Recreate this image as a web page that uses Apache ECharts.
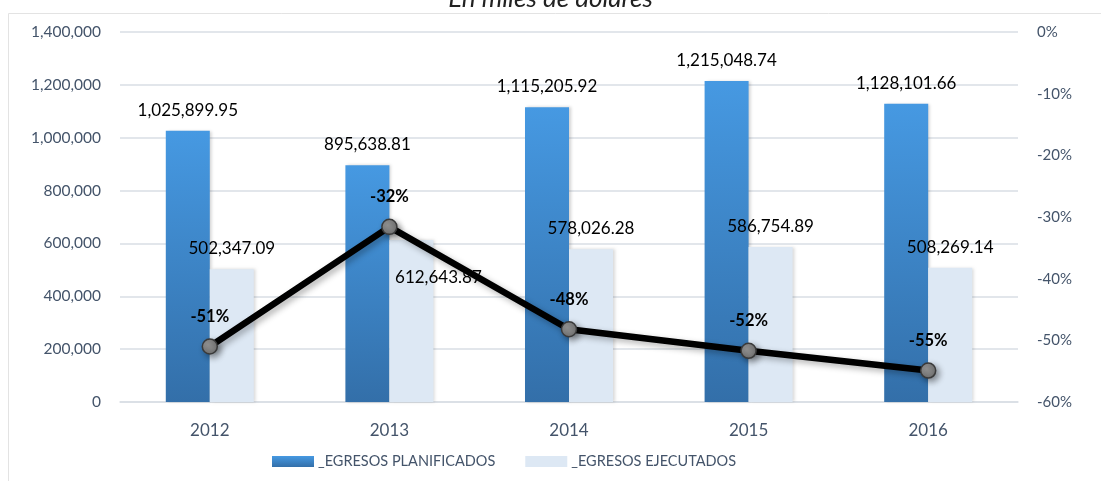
<!DOCTYPE html>
<html>
<head>
<meta charset="utf-8">
<script src="https://cdn.jsdelivr.net/npm/echarts@6/dist/echarts.min.js"></script>
<style>
  html, body { margin: 0; padding: 0; background: #fff; }
  #chart { width: 1101px; height: 481px; }
</style>
</head>
<body>
<div id="chart"></div>
<script>
// datos
var years = ['2012', '2013', '2014', '2015', '2016'];
var planificados = [1025899.95, 895638.81, 1115205.92, 1215048.74, 1128101.66];
var ejecutados = [502347.09, 612643.87, 578026.28, 586754.89, 508269.14];
var variacion = [-51.0, -31.6, -48.2, -51.7, -54.9];
var leftTicks = [0, 1400000, 200000]; // min, max, interval
var rightTicks = [-60, 0, 10];

var FONT = 'Lato';
var AXIS_COLOR = '#44546a';
var GRID_COLOR = '#d9dee5';

var fmtMoney = function (v) {
  return Number(v).toLocaleString('en-US', { minimumFractionDigits: 2, maximumFractionDigits: 2 });
};

var chart = echarts.init(document.getElementById('chart'));

var ejecData = ejecutados.map(function (v, i) {
  var item = { value: v };
  // esta etiqueta esta movida en el original (para no chocar con la linea)
  if (i === 1) {
    item.label = { offset: [27, 58] };
  }
  return item;
});

var option = {
  animation: false,
  textStyle: { fontFamily: FONT },
  title: {
    text: 'En miles de dólares',
    left: 'center',
    top: -19,
    textStyle: { fontFamily: FONT, fontStyle: 'italic', fontWeight: 'normal', fontSize: 26, color: '#222' }
  },
  graphic: [{
    type: 'rect',
    shape: { x: 8.5, y: 13.5, width: 1200, height: 600 },
    style: { fill: 'none', stroke: '#e3e3e3', lineWidth: 1 },
    silent: true
  }],
  grid: { left: 120, right: 83, top: 32, bottom: 79 },
  legend: {
    left: 267,
    top: 449,
    itemWidth: 42,
    itemHeight: 11,
    itemGap: 30,
    icon: 'rect',
    data: ['_EGRESOS PLANIFICADOS', '_EGRESOS EJECUTADOS'],
    textStyle: { fontFamily: FONT, fontSize: 14.5, color: AXIS_COLOR, padding: [0, 0, 0, -1] }
  },
  xAxis: {
    type: 'category',
    data: years,
    axisTick: { show: false },
    axisLine: { lineStyle: { color: GRID_COLOR, width: 1.5 } },
    axisLabel: { fontSize: 17, color: AXIS_COLOR, margin: 20 }
  },
  yAxis: [{
    type: 'value',
    min: leftTicks[0],
    max: leftTicks[1],
    interval: leftTicks[2],
    axisLabel: {
      fontSize: 15.5, color: AXIS_COLOR, margin: 19,
      formatter: function (v) { return Number(v).toLocaleString('en-US'); }
    },
    splitLine: { lineStyle: { color: GRID_COLOR, width: 1.5 } }
  }, {
    type: 'value',
    min: rightTicks[0],
    max: rightTicks[1],
    interval: rightTicks[2],
    position: 'right',
    axisLabel: {
      fontSize: 15, color: AXIS_COLOR, margin: 19,
      formatter: function (v) { return v + '%'; }
    },
    splitLine: { show: false }
  }],
  series: [{
    name: '_EGRESOS PLANIFICADOS',
    type: 'bar',
    barWidth: 44,
    barGap: '0%',
    data: planificados,
    itemStyle: {
      color: new echarts.graphic.LinearGradient(0, 0, 0, 1, [
        { offset: 0, color: '#4699e2' },
        { offset: 1, color: '#336fa9' }
      ]),
      shadowColor: 'rgba(0,0,0,0.18)',
      shadowBlur: 3,
      shadowOffsetX: 2
    },
    label: {
      show: true, position: 'top', distance: 12,
      fontSize: 17, color: '#000', fontFamily: FONT,
      formatter: function (p) { return fmtMoney(p.value); }
    }
  }, {
    name: '_EGRESOS EJECUTADOS',
    type: 'bar',
    barWidth: 44,
    data: ejecData,
    itemStyle: {
      color: '#dde8f4',
      shadowColor: 'rgba(0,0,0,0.15)',
      shadowBlur: 3,
      shadowOffsetX: 2
    },
    label: {
      show: true, position: 'top', distance: 12,
      fontSize: 17, color: '#000', fontFamily: FONT,
      formatter: function (p) { return fmtMoney(p.value); }
    }
  }, {
    name: 'Variacion',
    type: 'line',
    yAxisIndex: 1,
    data: variacion,
    symbol: 'circle',
    symbolSize: 15,
    z: 5,
    lineStyle: {
      color: '#000', width: 6.5,
      shadowColor: 'rgba(0,0,0,0.3)', shadowBlur: 6, shadowOffsetX: 3, shadowOffsetY: 3
    },
    itemStyle: {
      color: new echarts.graphic.RadialGradient(0.4, 0.4, 0.7, [
        { offset: 0, color: '#9a9a9a' },
        { offset: 1, color: '#6e6e6e' }
      ]),
      borderColor: '#3a3a3a',
      borderWidth: 1.5,
      shadowColor: 'rgba(0,0,0,0.4)', shadowBlur: 6, shadowOffsetX: 3, shadowOffsetY: 3
    },
    label: {
      show: true, position: 'top', distance: 13,
      fontSize: 16.5, fontWeight: 'bold', color: '#000', fontFamily: FONT,
      formatter: function (p) { return Math.round(p.value) + '%'; }
    }
  }]
};

chart.setOption(option);
</script>
</body>
</html>
